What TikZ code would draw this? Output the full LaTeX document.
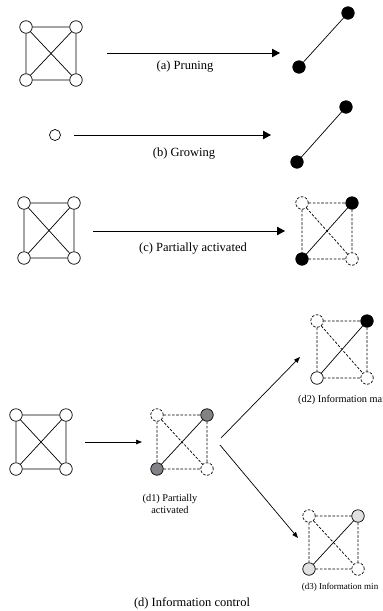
\documentclass[tikz,border=0pt]{standalone}
\usepackage{fontspec}
\setmainfont{Liberation Serif}
\usetikzlibrary{arrows.meta}
\begin{document}
\begin{tikzpicture}[x=1pt,y=-1pt,
  vtx/.style={circle,draw,line width=0.7pt,fill=white,minimum size=12.5pt,inner sep=0pt},
  dsh/.style={dash pattern=on 2.6pt off 1.6pt},
  dvtx/.style={vtx,dsh},
  bvtx/.style={vtx,fill=black},
  gvtx/.style={vtx,fill=midgray},
  lvtx/.style={vtx,fill=lightgrayfill},
  edge/.style={line width=0.7pt},
  dedge/.style={edge,dsh},
  bigarrow/.style={line width=0.8pt,-{Triangle[length=8pt,width=8.5pt]}},
  smallarrow/.style={line width=0.7pt,-{Triangle[length=6pt,width=4.5pt]}},
  caption/.style={font=\fontsize{12.5}{14}\selectfont,inner sep=0pt},
  subcap/.style={inner sep=0pt,align=center}
]
\definecolor{midgray}{RGB}{128,130,136}
\definecolor{lightgrayfill}{RGB}{224,226,224}
\useasboundingbox (0,0) rectangle (383,611);

% ---------- (a) pruning ----------
\node[vtx] (a1) at (26,27) {};
\node[vtx] (a2) at (76,27) {};
\node[vtx] (a3) at (26,80) {};
\node[vtx] (a4) at (76,80) {};
\draw[edge] (a1) -- (a2) (a1) -- (a3) (a2) -- (a4) (a3) -- (a4) (a1) -- (a4) (a2) -- (a3);
\coordinate (aS) at (107,53);
\coordinate (aE) at (280,53);
\draw[bigarrow] (aS) -- (aE);
\node[caption] (aL) at (185,67) {(a) Pruning};
\node[bvtx] (ar1) at (348,13) {};
\node[bvtx] (ar2) at (299,67) {};
\draw[edge] (ar1) -- (ar2);

% ---------- (b) growing ----------
\node[vtx,minimum size=11pt] (b0) at (55,135) {};
\coordinate (bS) at (74,135);
\coordinate (bE) at (271,135);
\draw[bigarrow] (bS) -- (bE);
\node[caption] (bL) at (184,154) {(b) Growing};
\node[bvtx] (br1) at (346,107) {};
\node[bvtx] (br2) at (297,162) {};
\draw[edge] (br1) -- (br2);

% ---------- (c) partially activated ----------
\node[vtx] (c1) at (24,203) {};
\node[vtx] (c2) at (74,203) {};
\node[vtx] (c3) at (24,258) {};
\node[vtx] (c4) at (74,258) {};
\draw[edge] (c1) -- (c2) (c1) -- (c3) (c2) -- (c4) (c3) -- (c4) (c1) -- (c4) (c2) -- (c3);
\coordinate (cS) at (93,231);
\coordinate (cE) at (285,231);
\draw[bigarrow] (cS) -- (cE);
\node[caption] (cL) at (193,249) {(c) Partially activated};
\node[dvtx] (cr1) at (302,203) {};
\node[bvtx] (cr2) at (352,203) {};
\node[bvtx] (cr3) at (302,259) {};
\node[dvtx] (cr4) at (352,259) {};
\draw[dedge] (cr1) -- (cr2) (cr1) -- (cr3) (cr2) -- (cr4) (cr3) -- (cr4) (cr1) -- (cr4);
\draw[edge] (cr3) -- (cr2);

% ---------- (d) information control ----------
\node[vtx] (d1) at (16,415) {};
\node[vtx] (d2) at (66,415) {};
\node[vtx] (d3) at (16,469) {};
\node[vtx] (d4) at (66,469) {};
\draw[edge] (d1) -- (d2) (d1) -- (d3) (d2) -- (d4) (d3) -- (d4) (d1) -- (d4) (d2) -- (d3);
\coordinate (dS) at (85,442);
\coordinate (dE) at (142,442);
\draw[smallarrow] (dS) -- (dE);

% (d1)
\node[dvtx] (e1) at (157,415) {};
\node[gvtx] (e2) at (207,415) {};
\node[gvtx] (e3) at (157,469) {};
\node[dvtx] (e4) at (207,469) {};
\draw[dedge] (e1) -- (e2) (e1) -- (e3) (e2) -- (e4) (e3) -- (e4) (e1) -- (e4);
\draw[edge] (e3) -- (e2);
\node[subcap,font=\fontsize{10.3}{12}\selectfont] (eL) at (170,504) {(d1) Partially\\activated};

% branches
\coordinate (uS) at (221,438);
\coordinate (uE) at (300,357);
\coordinate (lS) at (220,445);
\coordinate (lE) at (298,538);
\draw[smallarrow] (uS) -- (uE);
\draw[smallarrow] (lS) -- (lE);

% (d2)
\node[dvtx] (f1) at (317,321) {};
\node[bvtx] (f2) at (367,321) {};
\node[vtx]  (f3) at (317,378) {};
\node[dvtx] (f4) at (367,378) {};
\draw[dedge] (f1) -- (f2) (f1) -- (f3) (f2) -- (f4) (f3) -- (f4) (f1) -- (f4);
\draw[edge] (f3) -- (f2);
\node[subcap,anchor=west,font=\fontsize{10.3}{12}\selectfont] (fL) at (298,400) {(d2) Information max};

% (d3)
\node[dvtx] (g1) at (309,516) {};
\node[lvtx] (g2) at (358,516) {};
\node[lvtx] (g3) at (309,569) {};
\node[dvtx] (g4) at (358,569) {};
\draw[dedge] (g1) -- (g2) (g1) -- (g3) (g2) -- (g4) (g3) -- (g4) (g1) -- (g4);
\draw[edge] (g3) -- (g2);
\node[subcap,font=\fontsize{9}{11}\selectfont] (gL) at (340,587) {(d3) Information min};

\node[caption] (dL) at (192,603) {(d) Information control};
\end{tikzpicture}
\end{document}
